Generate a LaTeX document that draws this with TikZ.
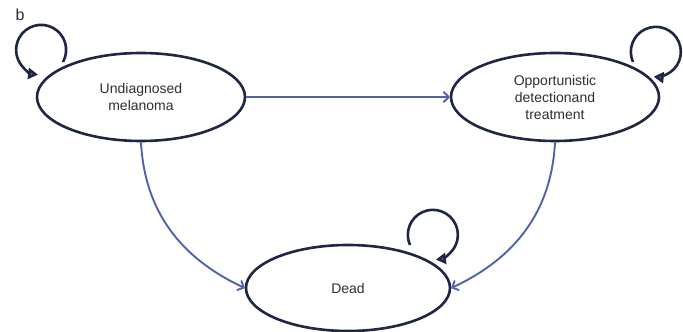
\documentclass[tikz,border=0pt]{standalone}
\usepackage{fontspec}
\setmainfont{Liberation Sans}
\usetikzlibrary{arrows.meta,calc,shapes.geometric}
\definecolor{navy}{RGB}{30,38,66}
\definecolor{conblue}{RGB}{80,98,172}
\definecolor{txt}{RGB}{45,45,55}
\begin{document}
\begin{tikzpicture}[x=1pt,y=1pt,
  state/.style={ellipse,draw=navy,line width=2.6pt,inner sep=0pt,align=center,
    text=txt,font=\fontsize{14}{17}\selectfont},
  conn/.style={draw=conblue,line width=1.9pt,-{Straight Barb[length=5pt,width=10pt,round]}},
  selfloop/.style={draw=navy,line width=2.6pt,
    -{Triangle[length=10pt,width=11pt,fill=conblue]}}]
\useasboundingbox (0,0) rectangle (683,332);
\node[font=\fontsize{16}{18}\selectfont,text=txt] (b) at (20,317) {b};
\node[state,minimum width=208pt,minimum height=88pt] (u) at (141,235) {Undiagnosed\\melanoma};
\node[state,minimum width=208pt,minimum height=88pt] (o) at (555,235) {Opportunistic\\detectionand\\treatment};
\node[state,minimum width=204pt,minimum height=86pt] (d) at (348,44) {Dead};
\draw[conn] (u.east) -- (o.west);
\draw[conn] (u.south) to[out=-87,in=155] (d.west);
\draw[conn] (o.south) to[out=-93,in=25] (d.east);
\draw[selfloop] ($(u.center)+(-78,35)$) arc[start angle=-29,end angle=263,radius=25];
\draw[selfloop] ($(o.center)+(78,35)$) arc[start angle=204,end angle=-95,radius=25];
\draw[selfloop] ($(d.center)+(62,43)$) arc[start angle=204,end angle=-83,radius=25];
\end{tikzpicture}
\end{document}
